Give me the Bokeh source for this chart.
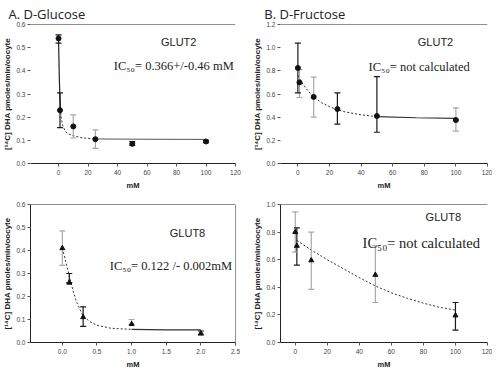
import numpy as np
from bokeh.plotting import figure
from bokeh.layouts import gridplot
from bokeh.models import ColumnDataSource, FixedTicker, PrintfTickFormatter, Span, Label
from bokeh.embed import file_html
from bokeh.resources import INLINE

# ---------------- data ----------------
a_x = [0, 1, 10, 25, 50, 100]
a_y = [0.54, 0.23, 0.16, 0.105, 0.085, 0.095]
a_hi = [0.555, 0.305, 0.21, 0.145, 0.095, 0.100]
a_lo = [0.52, 0.155, 0.11, 0.065, 0.078, 0.090]
a_fit_x = [0, 0.5, 1, 1.5, 2, 3, 5, 7, 10, 15, 20, 25, 50, 100]
a_fit_y = [0.54, 0.38, 0.27, 0.22, 0.19, 0.16, 0.135, 0.127, 0.12, 0.112, 0.108, 0.106, 0.105, 0.104]

b_x = [0, 1, 10, 25, 50, 100]
b_y = [0.825, 0.70, 0.575, 0.47, 0.41, 0.375]
b_hi = [1.04, 0.81, 0.745, 0.61, 0.75, 0.48]
b_lo = [0.61, 0.57, 0.40, 0.34, 0.27, 0.28]
b_fit_x = [0, 2, 5, 10, 15, 20, 25, 30, 40, 50, 75, 100]
b_fit_y = [0.76, 0.71, 0.65, 0.575, 0.525, 0.49, 0.465, 0.445, 0.42, 0.405, 0.395, 0.39]

c_x = [0, 0.1, 0.3, 1.0, 2.0]
c_y = [0.41, 0.26, 0.11, 0.08, 0.04]
c_hi = [0.485, 0.30, 0.155, 0.10, 0.05]
c_lo = [0.335, 0.26, 0.07, 0.08, 0.033]
c_fit_x = [0, 0.05, 0.1, 0.15, 0.2, 0.3, 0.4, 0.5, 0.7, 1.0, 1.5, 2.0]
c_fit_y = [0.41, 0.35, 0.29, 0.23, 0.18, 0.115, 0.09, 0.075, 0.062, 0.057, 0.055, 0.055]

d_x = [0, 1, 10, 50, 100]
d_y = [0.80, 0.70, 0.595, 0.49, 0.196]
d_hi = [0.946, 0.83, 0.80, 0.70, 0.29]
d_lo = [0.655, 0.56, 0.385, 0.29, 0.09]
d_fit_x = [1, 10, 20, 30, 40, 50, 60, 70, 80, 90, 100]
d_fit_y = [0.74, 0.67, 0.60, 0.535, 0.47, 0.41, 0.36, 0.32, 0.285, 0.255, 0.235]

x_ticks_mm = [0, 20, 40, 60, 80, 100, 120]
x_ticks_c = [0.0, 0.5, 1.0, 1.5, 2.0, 2.5]
y_ticks_a = [0.0, 0.1, 0.2, 0.3, 0.4, 0.5, 0.6]
y_ticks_b = [0.0, 0.2, 0.4, 0.6, 0.8, 1.0, 1.2]
y_ticks_d = [0.0, 0.2, 0.4, 0.6, 0.8, 1.0]

# styles (kept separate from data)
BLK = "#1a1a1a"
GRY = "#a8a8a8"
a_err_col = [BLK, BLK, GRY, GRY, BLK, BLK]
b_err_col = [BLK, GRY, GRY, BLK, BLK, GRY]
c_err_col = [GRY, BLK, BLK, GRY, BLK]
d_err_col = [GRY, BLK, GRY, GRY, BLK]

YLABEL = "[\u00b9\u2074C] DHA pmoles/min/oocyte"

S_X = 492 / 500
S_Y = 371 / 379


def make_panel(g, xr, yr, xticks, yticks, xfmt, show_yline, title=None, title_rx=0):
    p = figure(width=g["w"], height=g["h"], x_range=xr, y_range=yr,
               output_backend="svg", toolbar_location=None,
               min_border_left=g["left"], min_border_right=g["right"],
               min_border_top=g["top"], min_border_bottom=g["bottom"])
    p.outline_line_color = None
    p.grid.visible = False
    p.background_fill_color = "white"
    p.border_fill_color = "white"
    if title:
        p.title.text = title
        p.title.text_font = "Open Sans"
        p.title.text_font_size = "13px"
        p.title.text_font_style = "normal"
        p.title.text_color = "#222222"
        p.title.align = "left"
        p.title.offset = title_rx * S_X - g["ox"] - g["left"]
        p.title.standoff = 4
    for ax in (p.xaxis[0], p.yaxis[0]):
        ax.major_tick_in = 0
        ax.major_tick_out = 3
        ax.minor_tick_in = 0
        ax.minor_tick_out = 0
        ax.major_label_text_font = "Liberation Sans"
        ax.major_label_text_font_size = "6.5px"
        ax.major_label_text_color = "#444444"
        ax.axis_label_text_font = "Liberation Sans"
        ax.axis_label_text_font_style = "bold"
        ax.axis_label_text_color = "#222222"
        ax.major_tick_line_color = "#555555"
    p.xaxis.ticker = FixedTicker(ticks=xticks)
    p.yaxis.ticker = FixedTicker(ticks=yticks)
    p.xaxis.formatter = PrintfTickFormatter(format=xfmt)
    p.yaxis.formatter = PrintfTickFormatter(format="%.1f")
    p.xaxis.axis_label = "mM"
    p.xaxis.axis_label_text_font_size = "7.5px"
    p.xaxis.major_label_standoff = 3
    p.xaxis.axis_label_standoff = 3
    p.xaxis.axis_line_color = "#222222"
    p.yaxis.axis_label = YLABEL
    p.yaxis.axis_label_text_font_size = "8px"
    p.yaxis.major_label_standoff = 2
    p.yaxis.axis_label_standoff = 1
    p.yaxis.axis_line_color = "#222222" if show_yline else None
    p.add_layout(Span(location=yr[1], dimension="width", line_color="#222222", line_width=1.2))
    return p


def place(p, g, rx, ry, text, size, font="Liberation Sans", align="left", color="#222222"):
    fh = g["h"] - g["top"] - g["bottom"]
    sx = rx * S_X - g["ox"] - g["left"]
    sy = (g["oy"] + g["top"] + fh) - ry * S_Y
    p.add_layout(Label(x=sx, y=sy, x_units="screen", y_units="screen", text=text,
                       text_font=font, text_font_size=size, text_align=align,
                       text_baseline="alphabetic", text_color=color))


def errbars(p, xs, lo, hi, cols):
    src = ColumnDataSource(dict(x=xs, lo=lo, hi=hi, c=cols))
    p.segment(x0="x", y0="lo", x1="x", y1="hi", line_color="c", line_width=1.2, source=src)
    p.scatter("x", "hi", marker="dash", size=6, line_color="c", line_width=1.2, source=src)
    p.scatter("x", "lo", marker="dash", size=6, line_color="c", line_width=1.2, source=src)


gA = dict(ox=0, oy=0, w=246, h=192, left=25, right=11, top=21, bottom=27)
gB = dict(ox=246, oy=0, w=246, h=192, left=30, right=4, top=21, bottom=26)
gC = dict(ox=0, oy=192, w=246, h=179, left=27, right=11, top=10, bottom=24)
gD = dict(ox=246, oy=192, w=246, h=179, left=34, right=5, top=12, bottom=23)

# ---------- Panel A ----------
pa = make_panel(gA, (-19, 120), (0, 0.6), x_ticks_mm, y_ticks_a, "%d", False,
                title="A. D-Glucose", title_rx=3)
fx = np.array(a_fit_x); fy = np.array(a_fit_y)
m1 = fx <= 1.5
m2 = (fx >= 1.5) & (fx <= 25)
m3 = fx >= 25
pa.line(fx[m1], fy[m1], line_color="#222222", line_width=1.2)
pa.line(fx[m2], fy[m2], line_color="#333333", line_width=1, line_dash="2 2")
pa.line(fx[m3], fy[m3], line_color="#555555", line_width=1)
errbars(pa, a_x, a_lo, a_hi, a_err_col)
pa.scatter(a_x, a_y, marker="circle", size=5, fill_color="#111111", line_color="#111111")
place(pa, gA, 176, 44.5, "GLUT2", "11px", align="center")
place(pa, gA, 110, 68.5, "IC\u2085\u2080= 0.366+/-0.46  mM", "12.5px", font="Liberation Serif")

# ---------- Panel B ----------
pb = make_panel(gB, (-11, 120), (0, 1.2), x_ticks_mm, y_ticks_b, "%d", False,
                title="B. D-Fructose", title_rx=264)
fx = np.array(b_fit_x); fy = np.array(b_fit_y)
m1 = fx <= 50
m2 = fx >= 50
pb.line(fx[m1], fy[m1], line_color="#333333", line_width=1, line_dash="2 2")
pb.line(fx[m2], fy[m2], line_color="#333333", line_width=1.2)
errbars(pb, b_x, b_lo, b_hi, b_err_col)
pb.scatter(b_x, b_y, marker="circle", size=5, fill_color="#111111", line_color="#111111")
place(pb, gB, 438, 45, "GLUT2", "11px", align="center")
place(pb, gB, 370, 71, "IC\u2085\u2080= not calculated", "12.5px", font="Liberation Serif")

# ---------- Panel C ----------
pc = make_panel(gC, (-0.46, 2.5), (0, 0.6), x_ticks_c, y_ticks_a, "%.1f", True)
pc.add_layout(Span(location=2.5, dimension="height", line_color="#222222", line_width=1))
fx = np.array(c_fit_x); fy = np.array(c_fit_y)
m1 = fx <= 1.0
m2 = fx >= 1.0
pc.line(fx[m1], fy[m1], line_color="#333333", line_width=1, line_dash="2 2")
pc.line(fx[m2], fy[m2], line_color="#333333", line_width=1.2)
errbars(pc, c_x, c_lo, c_hi, c_err_col)
pc.scatter(c_x, c_y, marker="triangle", size=5, fill_color="#111111", line_color="#111111")
place(pc, gC, 187, 243, "GLUT8", "11px", align="center")
place(pc, gC, 108, 276, "IC\u2085\u2080= 0.122 /- 0.002mM", "12.5px", font="Liberation Serif")

# ---------- Panel D ----------
pd_ = make_panel(gD, (-9.2, 120), (0, 1.0), x_ticks_mm, y_ticks_d, "%d", True)
pd_.line(d_fit_x, d_fit_y, line_color="#333333", line_width=1, line_dash="2 2")
errbars(pd_, d_x, d_lo, d_hi, d_err_col)
pd_.scatter(d_x, d_y, marker="triangle", size=5, fill_color="#111111", line_color="#111111")
place(pd_, gD, 450, 227, "GLUT8", "11px", align="center")
place(pd_, gD, 368, 254, "IC\u2085\u2080= not calculated", "14.5px", font="Liberation Serif")

grid = gridplot([[pa, pb], [pc, pd_]], toolbar_location=None)

open("out.html", "w").write(file_html(grid, INLINE))
